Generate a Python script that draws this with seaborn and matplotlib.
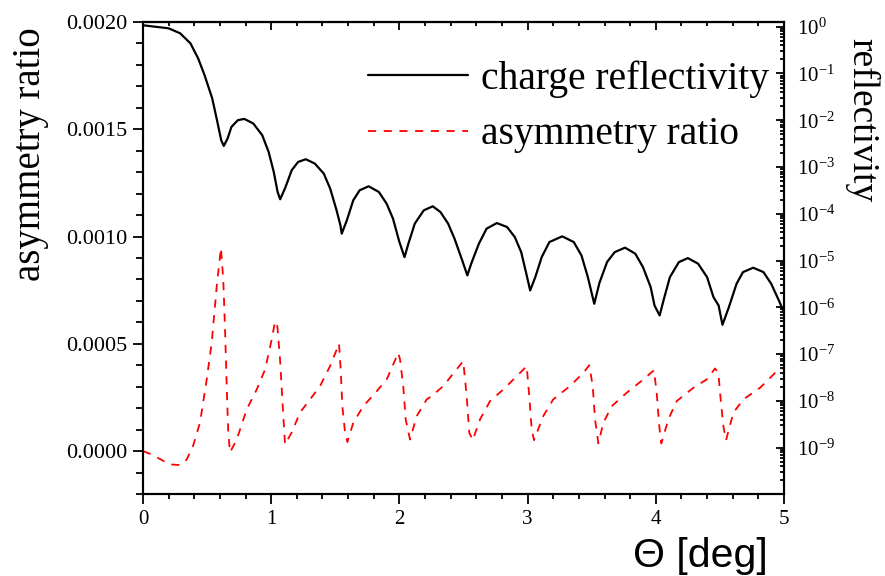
import numpy as np
import pandas as pd
import matplotlib
matplotlib.use("Agg")
import matplotlib.pyplot as plt
import seaborn as sns
from matplotlib.ticker import MultipleLocator, LogLocator, FormatStrFormatter, NullFormatter, FixedLocator

# ---------------- data ----------------
refl_theta = [0.0, 0.20, 0.29, 0.37, 0.43, 0.48, 0.54, 0.58, 0.61, 0.63, 0.66, 0.69, 0.74, 0.79,
              0.86, 0.93, 0.98, 1.02, 1.05, 1.07, 1.11, 1.16, 1.21, 1.27, 1.34, 1.41, 1.46, 1.51,
              1.54, 1.55, 1.59, 1.64, 1.69, 1.76, 1.84, 1.90, 1.95, 2.00, 2.04, 2.07, 2.12, 2.19,
              2.26, 2.32, 2.38, 2.43, 2.49, 2.53, 2.56, 2.62, 2.68, 2.76, 2.84, 2.90, 2.95, 2.99,
              3.02, 3.06, 3.11, 3.17, 3.27, 3.36, 3.42, 3.47, 3.52, 3.56, 3.62, 3.68, 3.76, 3.84,
              3.90, 3.96, 3.99, 4.03, 4.06, 4.11, 4.18, 4.25, 4.33, 4.40, 4.45, 4.49, 4.52, 4.57,
              4.63, 4.68, 4.76, 4.84, 4.90, 4.96, 5.00]
refl_log10 = [0.03, -0.035, -0.142, -0.356, -0.677, -1.035, -1.534, -2.035, -2.427, -2.549, -2.390,
              -2.142, -1.999, -1.971, -2.069, -2.320, -2.677, -3.106, -3.534, -3.69, -3.44, -3.069,
              -2.891, -2.834, -2.926, -3.140, -3.461, -3.926, -4.247, -4.425, -4.140, -3.712, -3.497,
              -3.412, -3.534, -3.782, -4.103, -4.604, -4.926, -4.639, -4.210, -3.926, -3.840, -3.962,
              -4.210, -4.532, -4.996, -5.318, -5.067, -4.639, -4.318, -4.198, -4.283, -4.497, -4.819,
              -5.281, -5.639, -5.354, -4.926, -4.604, -4.482, -4.604, -4.889, -5.354, -5.924, -5.48,
              -5.03, -4.819, -4.724, -4.853, -5.140, -5.568, -5.960, -6.174, -5.853, -5.354, -5.033,
              -4.947, -5.067, -5.354, -5.782, -5.960, -6.373, -5.996, -5.495, -5.247, -5.153, -5.247,
              -5.495, -5.853, -6.110]

asym_theta = [0.0, 0.066, 0.209, 0.289, 0.341, 0.390, 0.445, 0.497, 0.536, 0.575, 0.608, 0.626,
              0.640, 0.653, 0.665, 0.679, 0.731, 0.809, 0.887, 0.952, 1.004, 1.030, 1.048, 1.069,
              1.090, 1.108, 1.160, 1.225, 1.303, 1.381, 1.459, 1.511, 1.529, 1.542, 1.555, 1.576,
              1.594, 1.640, 1.718, 1.823, 1.901, 1.991, 2.005, 2.030, 2.049, 2.083, 2.135, 2.213,
              2.252, 2.342, 2.434, 2.498, 2.525, 2.545, 2.572, 2.629, 2.707, 2.810, 2.915, 2.993,
              3.013, 3.032, 3.050, 3.122, 3.200, 3.331, 3.435, 3.481, 3.508, 3.526, 3.552, 3.591,
              3.656, 3.773, 3.903, 3.986, 4.007, 4.027, 4.043, 4.098, 4.163, 4.293, 4.397, 4.462,
              4.488, 4.506, 4.527, 4.548, 4.605, 4.683, 4.813, 4.943, 5.000]
asym_ratio = [0.0, -0.0000154, -0.000062, -0.000065, -0.000039, 0.000023, 0.000134, 0.000334,
              0.000506, 0.000768, 0.000947, 0.000799, 0.000567, 0.000303, 0.000087, -0.000006,
              0.000054, 0.000194, 0.000287, 0.000380, 0.000520, 0.000605, 0.000582, 0.000427,
              0.000209, 0.000031, 0.000087, 0.000180, 0.000241, 0.000303, 0.000396, 0.000473,
              0.000501, 0.000380, 0.000209, 0.000087, 0.000042, 0.000132, 0.000209, 0.000279,
              0.000334, 0.000458, 0.000427, 0.000303, 0.000148, 0.000054, 0.000163, 0.000241,
              0.000256, 0.000303, 0.000372, 0.000419, 0.000256, 0.000086, 0.000051, 0.000148,
              0.000233, 0.000287, 0.000349, 0.000396, 0.000256, 0.000101, 0.000051, 0.000163,
              0.000241, 0.000303, 0.000365, 0.000400, 0.000303, 0.000148, 0.000036, 0.000132,
              0.000209, 0.000272, 0.000334, 0.000377, 0.000272, 0.000116, 0.000036, 0.000148,
              0.000233, 0.000295, 0.000334, 0.000385, 0.000365, 0.000241, 0.000116, 0.000051,
              0.000179, 0.000241, 0.000295, 0.000372, 0.000390]

x_ticks = [0, 1, 2, 3, 4, 5]
left_ticks = [0.0, 0.0005, 0.0010, 0.0015, 0.0020]
legend_labels = ["charge reflectivity", "asymmetry ratio"]

refl_df = pd.DataFrame({"theta": refl_theta, "R": np.power(10.0, refl_log10)})
asym_df = pd.DataFrame({"theta": asym_theta, "A": asym_ratio})

# ---------------- style ----------------
sns.set_theme(style="white")
plt.rcParams.update({
    "font.family": ["Liberation Serif", "DejaVu Serif"],
    "mathtext.fontset": "stix",
    "axes.edgecolor": "black",
    "axes.linewidth": 1.5,
    "xtick.color": "black",
    "ytick.color": "black",
    "text.color": "black",
    "axes.labelcolor": "black",
})

fig = plt.figure(figsize=(8.85, 5.76), dpi=100)
ax = fig.add_axes([143 / 885, 82 / 576, 641 / 885, 472 / 576])
ax2 = ax.twinx()

sns.lineplot(data=asym_df, x="theta", y="A", ax=ax, color="red", linewidth=1.3,
             estimator=None, sort=False, legend=False)
sns.lineplot(data=refl_df, x="theta", y="R", ax=ax2, color="black", linewidth=1.6,
             estimator=None, sort=False, legend=False)
red_line = ax.lines[0]
red_line.set_dashes((4.5, 4.2))
black_line = ax2.lines[0]
black_line.set_solid_joinstyle("round")

# x axis
ax.set_xlim(0, 5)
ax.xaxis.set_major_locator(FixedLocator(x_ticks))
ax.xaxis.set_minor_locator(MultipleLocator(0.2))
ax.tick_params(axis="x", which="both", direction="out", top=False, bottom=True,
               labelsize=15, pad=4.5, width=1.3)
ax.tick_params(axis="x", which="major", length=7.2)
ax.tick_params(axis="x", which="minor", length=3.6)

top = ax.secondary_xaxis("top")
top.xaxis.set_major_locator(FixedLocator(x_ticks))
top.xaxis.set_minor_locator(MultipleLocator(0.2))
top.tick_params(which="both", direction="in", labeltop=False, width=1.3)
top.tick_params(which="major", length=5.8)
top.tick_params(which="minor", length=3.0)
top.spines["top"].set_linewidth(1.5)

# left axis
ax.set_ylim(-0.0002, 0.0020)
ax.yaxis.set_major_locator(FixedLocator(left_ticks))
ax.yaxis.set_minor_locator(MultipleLocator(0.0001))
ax.yaxis.set_major_formatter(FormatStrFormatter("%.4f"))
ax.tick_params(axis="y", which="both", direction="out", left=True, right=False,
               labelsize=16, pad=4.3, width=1.3)
ax.tick_params(axis="y", which="major", length=7.2)
ax.tick_params(axis="y", which="minor", length=4.8)

# right axis (log)
ax2.set_yscale("log")
ax2.set_ylim(10 ** -9.99, 10 ** 0.1)
ax2.yaxis.set_major_locator(LogLocator(base=10, numticks=20))
ax2.yaxis.set_minor_locator(LogLocator(base=10, subs=np.arange(2, 10), numticks=20))
ax2.yaxis.set_minor_formatter(NullFormatter())
ax2.tick_params(axis="y", which="both", direction="in", left=False, right=True,
                labelsize=15, pad=9, width=1.3)
ax2.tick_params(axis="y", which="major", length=5.8)
ax2.tick_params(axis="y", which="minor", length=3.0)
for sp in ax2.spines.values():
    sp.set_linewidth(1.5)

ax.grid(False)
ax2.grid(False)

# labels
ax.set_ylabel("asymmetry ratio", fontsize=28, va="center")
ax.yaxis.set_label_coords(-0.176, 0.72)
ax2.set_ylabel("reflectivity", fontsize=27, rotation=270, va="center")
ax2.yaxis.set_label_coords(1.122, 0.792)
ax.set_xlabel("Θ [deg]", fontsize=29.5, family=["Liberation Sans", "DejaVu Sans"], va="bottom")
ax.xaxis.set_label_coords(0.869, -0.172)

ax2.legend(handles=[black_line, red_line], labels=legend_labels, loc="upper left",
           bbox_to_anchor=(0.351, 0.919), frameon=False, fontsize=28.5,
           handlelength=2.53, handletextpad=0.33, labelspacing=0.47,
           borderpad=0, borderaxespad=0)

fig.savefig("out.png", dpi=100)
